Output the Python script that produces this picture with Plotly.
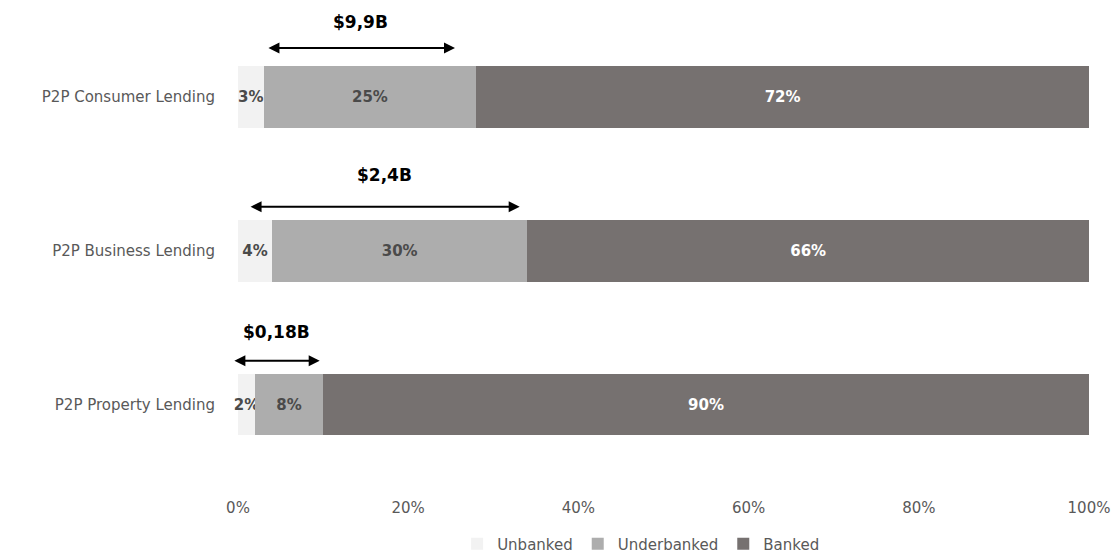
import plotly.graph_objects as go

# Lending segments, bottom row first so the consumer segment sits on top
categories = ["P2P Property Lending", "P2P Business Lending", "P2P Consumer Lending"]
unbanked = [2, 4, 3]
underbanked = [8, 30, 25]
banked = [90, 66, 72]

# Market size annotations per row (text, arrow start %, arrow end %)
market_sizes = ["$0,18B", "$2,4B", "$9,9B"]
arrow_start = [-0.6, 1.3, 3.4]
arrow_end = [9.6, 33.1, 25.5]
arrow_offset = [0.286, 0.286, 0.318]
label_offset = [0.474, 0.49, 0.487]

series = [
    ("Unbanked", unbanked, "#F2F2F2", "#4A4A4A"),
    ("Underbanked", underbanked, "#ADADAD", "#4A4A4A"),
    ("Banked", banked, "#767170", "#FFFFFF"),
]

FONT = "DejaVu Sans, sans-serif"

fig = go.Figure()
for name, vals, color, tcolor in series:
    fig.add_trace(go.Bar(
        name=name,
        y=categories,
        x=[v / 100 for v in vals],
        orientation="h",
        marker=dict(color=color, line=dict(width=0)),
        text=[f"{v}%" for v in vals],
        textposition="inside",
        insidetextanchor="middle",
        constraintext="none",
        textangle=0,
        cliponaxis=False,
        textfont=dict(family=FONT, size=15, color=tcolor, weight="bold"),
        width=0.4,
        hoverinfo="skip",
    ))

for i, cat in enumerate(categories):
    fig.add_annotation(
        x=arrow_end[i] / 100, y=i + arrow_offset[i],
        ax=arrow_start[i] / 100, ay=i + arrow_offset[i],
        xref="x", yref="y", axref="x", ayref="y",
        showarrow=True, arrowhead=2, arrowside="end+start",
        arrowwidth=2, arrowsize=1.1, arrowcolor="#000000", text="",
    )
    fig.add_annotation(
        x=(arrow_start[i] + arrow_end[i]) / 200, y=i + label_offset[i],
        xref="x", yref="y", showarrow=False,
        text=f"<b>{market_sizes[i]}</b>",
        font=dict(family=FONT, size=17, color="#000000"),
    )

fig.update_layout(
    barmode="stack",
    width=1115, height=555,
    margin=dict(l=238, r=26, t=20, b=58, autoexpand=False),
    plot_bgcolor="#FFFFFF", paper_bgcolor="#FFFFFF",
    showlegend=True,
    legend=dict(
        orientation="h", xref="container", yref="container",
        x=0.575, xanchor="center", y=0.02, yanchor="middle",
        font=dict(family=FONT, size=15, color="#595959"),
        traceorder="normal", itemclick=False, itemwidth=30,
    ),
    xaxis=dict(
        range=[0, 1], tickvals=[0, 0.2, 0.4, 0.6, 0.8, 1.0],
        ticktext=["0%", "20%", "40%", "60%", "80%", "100%"],
        showgrid=False, zeroline=False, showline=False,
        tickfont=dict(family=FONT, size=15, color="#595959"),
        automargin=False,
    ),
    yaxis=dict(
        categoryorder="array", categoryarray=categories,
        range=[-0.6, 2.5],
        showgrid=False, zeroline=False, showline=False,
        ticklabelstandoff=22, automargin=False,
        tickfont=dict(family=FONT, size=15, color="#595959"),
    ),
)

fig.write_html("out.html")
